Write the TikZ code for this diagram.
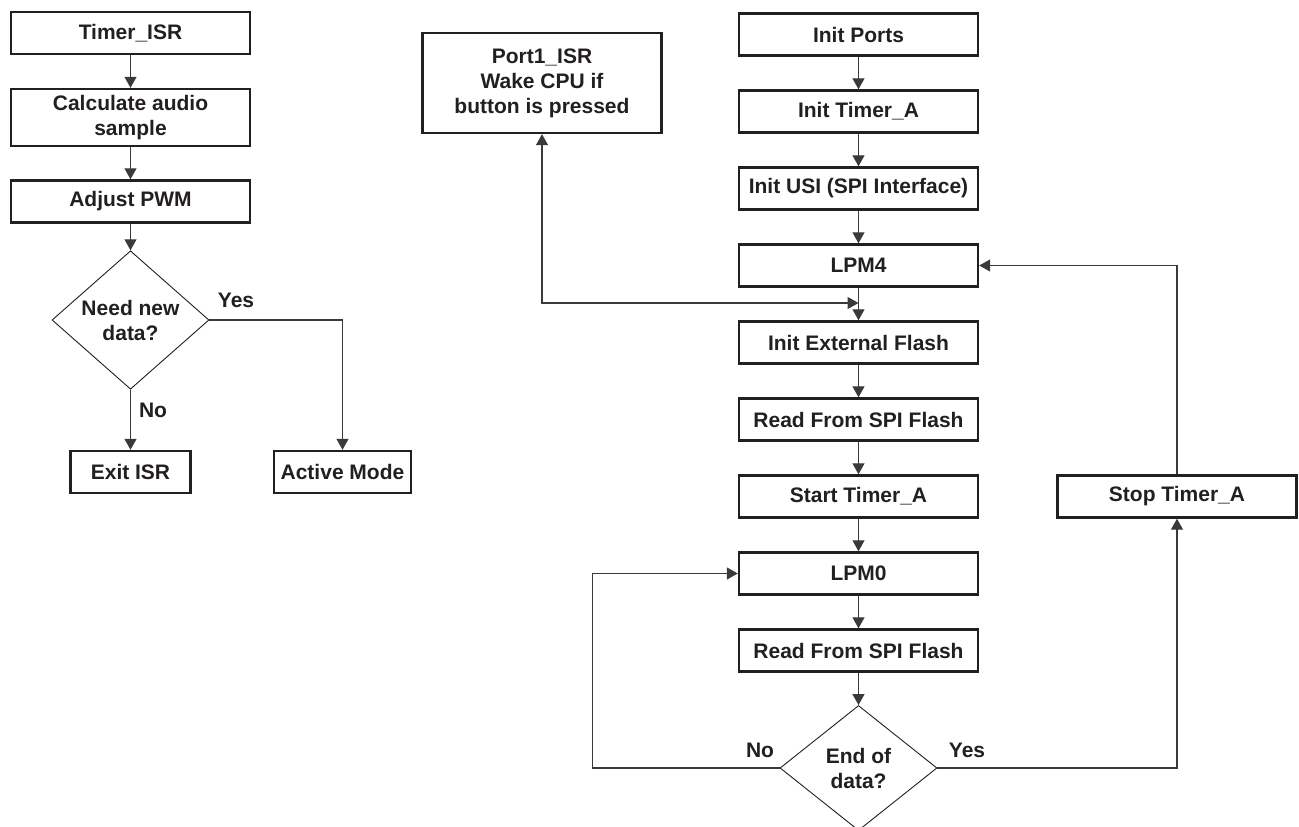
\documentclass[tikz,border=0pt]{standalone}
\usepackage{fontspec}
\setmainfont{Liberation Sans}
\usetikzlibrary{shapes.geometric,arrows.meta}
\definecolor{ink}{HTML}{231F20}
\definecolor{wire}{HTML}{3A3A3A}
\begin{document}
\begin{tikzpicture}[x=1pt, y=1pt, node distance=77pt,
  >={Triangle[width=12pt,length=11pt]},
  every node/.style={font=\bfseries\fontsize{21}{25}\selectfont, text=ink},
  main node/.style={draw=ink, line width=2.4pt, minimum width=239pt, minimum height=42pt, inner sep=2pt, align=center},
  test node/.style={draw=ink, line width=0.9pt, diamond, minimum width=157pt, minimum height=125pt, inner sep=0pt, align=center},
  flow/.style={draw=wire, line width=1.2pt}]
\useasboundingbox (0,0) rectangle (1299,-827);
% interrupt routine
\node[main node]                                        (tisr)   at (130.5,-33) {Timer\_ISR};
\node[main node, minimum height=57pt, below of=tisr, node distance=84.5pt] (calc) {Calculate audio\\sample};
\node[main node, below of=calc, node distance=84pt]     (pwm)    {Adjust PWM};
\node[test node, below of=pwm, node distance=118.5pt]   (need)   {Need new\\data?};
\node[main node, minimum width=120pt, below of=need, node distance=152pt] (exit) {Exit ISR};
\node[main node, minimum width=137pt]                   (active) at (342.5,-472) {Active Mode};
\node at (236,-300) {Yes};
\node at (153,-410) {No};
% main loop
\node[main node, minimum height=100pt]                  (port)   at (542,-83) {Port1\_ISR\\Wake CPU if\\button is pressed};
\node[main node]                                        (ports)  at (858.5,-34.5) {Init Ports};
\node[main node, below of=ports]                        (timer)  {Init Timer\_A};
\node[main node, below of=timer]                        (usi)    {Init USI (SPI Interface)};
\node[main node, below of=usi]                          (lpm4)   {LPM4};
\node[main node, below of=lpm4]                         (flash)  {Init External Flash};
\node[main node, below of=flash]                        (read)   {Read From SPI Flash};
\node[main node, below of=read]                         (start)  {Start Timer\_A};
\node[main node, below of=start]                        (lpm0)   {LPM0};
\node[main node, below of=lpm0]                         (readb)  {Read From SPI Flash};
\node[test node, below of=readb, node distance=117.5pt] (end)    {End of\\data?};
\node[main node]                                        (stop)   at (1177,-496.5) {Stop Timer\_A};
\node at (760,-750) {No};
\node at (967,-750) {Yes};
\coordinate (join) at (858.5,-303);

\draw[flow, ->] (tisr) -- (calc);
\draw[flow, ->] (calc) -- (pwm);
\draw[flow, ->] (pwm) -- (need);
\draw[flow, ->] (need) -- (exit);
\draw[flow, ->] (need.east) -| (active.north);
\draw[flow, ->] (ports) -- (timer);
\draw[flow, ->] (timer) -- (usi);
\draw[flow, ->] (usi) -- (lpm4);
\draw[flow, ->] (lpm4) -- (flash);
\draw[flow, <->] (port.south) |- (join);
\draw[flow, ->] (flash) -- (read);
\draw[flow, ->] (read) -- (start);
\draw[flow, ->] (start) -- (lpm0);
\draw[flow, ->] (lpm0) -- (readb);
\draw[flow, ->] (readb) -- (end);
\draw[flow, ->] (end.west) -- ++(-187,0) |- (lpm0.west);
\draw[flow, ->] (end.east) -| (stop.south);
\draw[flow, ->] (stop.north) |- (lpm4.east);
\end{tikzpicture}
\end{document}
